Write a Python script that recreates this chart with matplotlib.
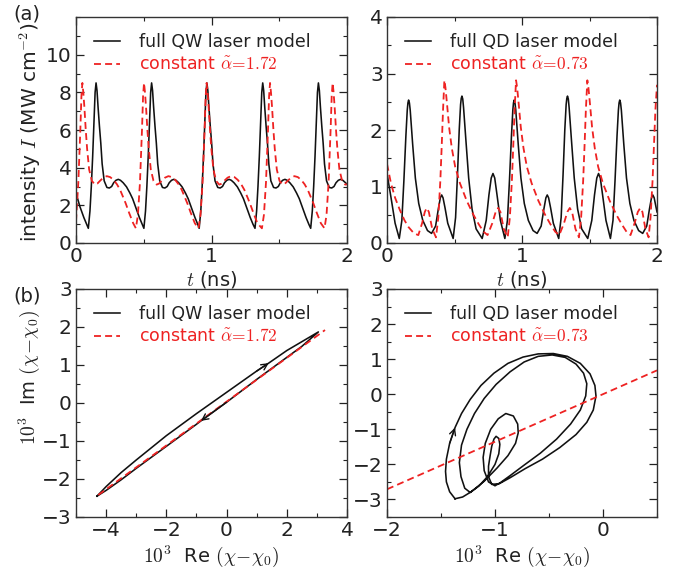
import matplotlib
matplotlib.use('Agg')
import matplotlib.pyplot as plt
from matplotlib.ticker import MultipleLocator

plt.rcParams['mathtext.fontset'] = 'cm'
plt.rcParams['font.family'] = ['DejaVu Sans']
plt.rcParams['lines.scale_dashes'] = False

RED = '#ee2222'
DARK = '#222222'

# ---------------- data: (a) left, QW intensity ----------------
t_qw_full = [0.000, 0.012, 0.028, 0.043, 0.058, 0.078,
             0.091, 0.103, 0.113, 0.123, 0.133, 0.141, 0.148, 0.155, 0.163, 0.173, 0.183, 0.193, 0.208, 0.228, 0.246, 0.263, 0.278, 0.295, 0.312, 0.328, 0.348, 0.373, 0.398, 0.418, 0.438, 0.453, 0.468, 0.488,
             0.501, 0.513, 0.523, 0.533, 0.543, 0.551, 0.558, 0.565, 0.573, 0.583, 0.593, 0.603, 0.618, 0.638, 0.656, 0.673, 0.688, 0.705, 0.722, 0.738, 0.758, 0.783, 0.808, 0.828, 0.848, 0.863, 0.878, 0.898,
             0.909, 0.921, 0.931, 0.941, 0.951, 0.959, 0.966, 0.973, 0.981, 0.991, 1.001, 1.011, 1.026, 1.046, 1.064, 1.081, 1.096, 1.113, 1.130, 1.146, 1.166, 1.191, 1.216, 1.236, 1.256, 1.271, 1.286, 1.306,
             1.321, 1.333, 1.343, 1.353, 1.363, 1.371, 1.378, 1.385, 1.393, 1.403, 1.413, 1.423, 1.438, 1.458, 1.476, 1.493, 1.508, 1.525, 1.542, 1.558, 1.578, 1.603, 1.628, 1.648, 1.668, 1.683, 1.698, 1.718,
             1.732, 1.744, 1.754, 1.764, 1.774, 1.782, 1.789, 1.796, 1.804, 1.814, 1.824, 1.834, 1.849, 1.869, 1.887, 1.904, 1.919, 1.936, 1.953, 1.969, 1.989, 2.000]
I_qw_full = [2.55, 2.35, 1.95, 1.65, 1.35, 1.00,
             0.78, 1.70, 3.00, 4.60, 6.50, 8.00, 8.50, 8.10, 7.20, 6.20, 5.30, 4.20, 3.30, 2.95, 2.92, 3.00, 3.20, 3.33, 3.38, 3.33, 3.20, 2.98, 2.65, 2.35, 1.95, 1.65, 1.35, 1.00,
             0.78, 1.70, 3.00, 4.60, 6.50, 8.00, 8.50, 8.10, 7.20, 6.20, 5.30, 4.20, 3.30, 2.95, 2.92, 3.00, 3.20, 3.33, 3.38, 3.33, 3.20, 2.98, 2.65, 2.35, 1.95, 1.65, 1.35, 1.00,
             0.78, 1.70, 3.00, 4.60, 6.50, 8.00, 8.50, 8.10, 7.20, 6.20, 5.30, 4.20, 3.30, 2.95, 2.92, 3.00, 3.20, 3.33, 3.38, 3.33, 3.20, 2.98, 2.65, 2.35, 1.95, 1.65, 1.35, 1.00,
             0.78, 1.70, 3.00, 4.60, 6.50, 8.00, 8.50, 8.10, 7.20, 6.20, 5.30, 4.20, 3.30, 2.95, 2.92, 3.00, 3.20, 3.33, 3.38, 3.33, 3.20, 2.98, 2.65, 2.35, 1.95, 1.65, 1.35, 1.00,
             0.78, 1.70, 3.00, 4.60, 6.50, 8.00, 8.50, 8.10, 7.20, 6.20, 5.30, 4.20, 3.30, 2.95, 2.92, 3.00, 3.20, 3.33, 3.38, 3.33, 3.20, 3.12]

t_qw_const = [0.000, 0.017, 0.032, 0.040, 0.047, 0.054, 0.062, 0.072, 0.082, 0.097, 0.117, 0.140, 0.157, 0.177, 0.202, 0.227, 0.252, 0.277, 0.302, 0.325, 0.347, 0.367, 0.392, 0.422, 0.442,
              0.457, 0.472, 0.487, 0.495, 0.502, 0.509, 0.517, 0.527, 0.537, 0.552, 0.572, 0.595, 0.612, 0.632, 0.657, 0.682, 0.707, 0.732, 0.757, 0.780, 0.802, 0.822, 0.847, 0.877, 0.904,
              0.919, 0.934, 0.949, 0.957, 0.964, 0.971, 0.979, 0.989, 0.999, 1.014, 1.034, 1.057, 1.074, 1.094, 1.119, 1.144, 1.169, 1.194, 1.219, 1.242, 1.264, 1.284, 1.309, 1.339, 1.372,
              1.387, 1.402, 1.417, 1.425, 1.432, 1.439, 1.447, 1.457, 1.467, 1.482, 1.502, 1.525, 1.542, 1.562, 1.587, 1.612, 1.637, 1.662, 1.687, 1.710, 1.732, 1.752, 1.777, 1.807, 1.834,
              1.849, 1.864, 1.879, 1.887, 1.894, 1.901, 1.909, 1.919, 1.929, 1.944, 1.964, 1.987, 2.000]
I_qw_const = [1.15, 3.20, 6.00, 7.80, 8.50, 8.00, 7.20, 6.00, 5.00, 3.90, 3.30, 3.10, 3.15, 3.30, 3.47, 3.55, 3.50, 3.35, 3.12, 2.83, 2.45, 2.10, 1.60, 1.05, 0.78,
              1.50, 3.20, 6.00, 7.80, 8.50, 8.00, 7.20, 6.00, 5.00, 3.90, 3.30, 3.10, 3.15, 3.30, 3.47, 3.55, 3.50, 3.35, 3.12, 2.83, 2.45, 2.10, 1.60, 1.05, 0.78,
              1.50, 3.20, 6.00, 7.80, 8.50, 8.00, 7.20, 6.00, 5.00, 3.90, 3.30, 3.10, 3.15, 3.30, 3.47, 3.55, 3.50, 3.35, 3.12, 2.83, 2.45, 2.10, 1.60, 1.05, 0.78,
              1.50, 3.20, 6.00, 7.80, 8.50, 8.00, 7.20, 6.00, 5.00, 3.90, 3.30, 3.10, 3.15, 3.30, 3.47, 3.55, 3.50, 3.35, 3.12, 2.83, 2.45, 2.10, 1.60, 1.05, 0.78,
              1.50, 3.20, 6.00, 7.80, 8.50, 8.00, 7.20, 6.00, 5.00, 3.90, 3.30, 3.10, 3.12]

# ---------------- data: (a) right, QD intensity ----------------
t_qd_full = [0.000, 0.030, 0.060, 0.091, 0.110, 0.125, 0.140, 0.150, 0.155, 0.160, 0.166, 0.172, 0.190, 0.210, 0.235, 0.265, 0.300, 0.330, 0.360, 0.380, 0.395, 0.405, 0.415, 0.430, 0.450, 0.490,
             0.508, 0.522, 0.535, 0.545, 0.550, 0.555, 0.561, 0.567, 0.585, 0.605, 0.630, 0.660, 0.705, 0.735, 0.755, 0.772, 0.785, 0.798, 0.815, 0.840,
             0.873, 0.892, 0.907, 0.922, 0.932, 0.937, 0.942, 0.948, 0.954, 0.972, 0.992, 1.017, 1.047, 1.082, 1.112, 1.142, 1.162, 1.177, 1.187, 1.197, 1.212, 1.232, 1.272,
             1.290, 1.304, 1.317, 1.327, 1.332, 1.337, 1.343, 1.349, 1.367, 1.387, 1.412, 1.442, 1.487, 1.517, 1.537, 1.554, 1.567, 1.580, 1.597, 1.622,
             1.655, 1.674, 1.689, 1.704, 1.714, 1.719, 1.724, 1.730, 1.736, 1.754, 1.774, 1.799, 1.829, 1.864, 1.894, 1.924, 1.944, 1.959, 1.969, 1.979, 1.994, 2.000]
I_qd_full = [1.23, 0.80, 0.35, 0.08, 0.40, 1.10, 1.90, 2.35, 2.48, 2.53, 2.48, 2.35, 1.75, 1.15, 0.70, 0.40, 0.22, 0.17, 0.30, 0.60, 0.80, 0.85, 0.80, 0.62, 0.35, 0.08,
             0.45, 1.20, 2.00, 2.45, 2.56, 2.60, 2.55, 2.40, 1.80, 1.15, 0.60, 0.25, 0.08, 0.40, 0.85, 1.15, 1.23, 1.15, 0.85, 0.40,
             0.08, 0.40, 1.10, 1.90, 2.35, 2.48, 2.53, 2.48, 2.35, 1.75, 1.15, 0.70, 0.40, 0.22, 0.17, 0.30, 0.60, 0.80, 0.85, 0.80, 0.62, 0.35, 0.08,
             0.45, 1.20, 2.00, 2.45, 2.56, 2.60, 2.55, 2.40, 1.80, 1.15, 0.60, 0.25, 0.08, 0.40, 0.85, 1.15, 1.23, 1.15, 0.85, 0.40,
             0.08, 0.40, 1.10, 1.90, 2.35, 2.48, 2.53, 2.48, 2.35, 1.75, 1.15, 0.70, 0.40, 0.22, 0.17, 0.30, 0.60, 0.80, 0.85, 0.80, 0.62, 0.55]

t_qd_const = [0.000, 0.030, 0.060, 0.096, 0.130, 0.160, 0.200, 0.232, 0.260, 0.280, 0.294, 0.310, 0.335, 0.363,
              0.380, 0.395, 0.405, 0.415, 0.425, 0.433, 0.445, 0.460, 0.480, 0.505, 0.540, 0.590, 0.640, 0.680, 0.715, 0.745, 0.780, 0.805, 0.823, 0.840, 0.865, 0.894,
              0.910, 0.925, 0.935, 0.945, 0.956, 0.964, 0.976, 0.991, 1.011, 1.036, 1.071, 1.121, 1.171, 1.211, 1.246, 1.276, 1.311, 1.336, 1.354, 1.371, 1.396, 1.422,
              1.438, 1.453, 1.463, 1.473, 1.484, 1.492, 1.504, 1.519, 1.539, 1.564, 1.599, 1.649, 1.699, 1.739, 1.774, 1.804, 1.834, 1.858, 1.876, 1.892, 1.914, 1.938,
              1.952, 1.967, 1.977, 1.988, 2.000]
I_qd_const = [1.40, 1.05, 0.80, 0.58, 0.40, 0.28, 0.17, 0.14, 0.35, 0.55, 0.62, 0.55, 0.25, 0.10,
              0.45, 1.10, 1.70, 2.35, 2.88, 2.75, 2.45, 2.05, 1.68, 1.35, 1.06, 0.75, 0.50, 0.33, 0.20, 0.14, 0.35, 0.55, 0.62, 0.55, 0.25, 0.10,
              0.45, 1.10, 1.70, 2.35, 2.88, 2.75, 2.45, 2.05, 1.68, 1.35, 1.06, 0.75, 0.50, 0.33, 0.20, 0.14, 0.35, 0.55, 0.62, 0.55, 0.25, 0.10,
              0.45, 1.10, 1.70, 2.35, 2.88, 2.75, 2.45, 2.05, 1.68, 1.35, 1.06, 0.75, 0.50, 0.33, 0.20, 0.14, 0.35, 0.55, 0.62, 0.55, 0.25, 0.10,
              0.45, 1.10, 1.70, 2.35, 2.80]

# ---------------- data: (b) left, QW susceptibility loop ----------------
re_qw_full = [-4.30, -4.00, -3.50, -3.00, -2.00, -1.00, 0.00, 1.00, 1.40, 2.00, 2.60, 3.05,
              2.50, 2.00, 1.00, 0.00, -0.85, -1.00, -2.00, -3.00, -3.50, -4.00, -4.30]
im_qw_full = [-2.45, -2.20, -1.83, -1.50, -0.86, -0.28, 0.28, 0.84, 1.05, 1.38, 1.66, 1.87,
              1.49, 1.20, 0.62, 0.02, -0.47, -0.56, -1.14, -1.72, -2.02, -2.30, -2.45]
re_qw_const = [-4.26, 3.27]
im_qw_const = [-2.42, 1.92]

# ---------------- data: (b) right, QD susceptibility trajectory ----------------
re_qd_full = [-1.37, -1.42, -1.45, -1.458, -1.45, -1.42, -1.37, -1.31, -1.23, -1.13, -1.01, -0.88, -0.74, -0.60, -0.46, -0.33, -0.21, -0.12, -0.075, -0.065,
              -0.09, -0.15, -0.25, -0.40, -0.56, -0.72, -0.86, -0.96, -1.03, -1.06,
              -1.06, -1.045, -1.03, -1.01, -0.99, -0.965, -0.955, -0.965, -1.00, -1.07, -1.15, -1.23,
              -1.28, -1.315, -1.33, -1.31, -1.26, -1.19, -1.10, -0.99, -0.86, -0.73, -0.60, -0.47, -0.35, -0.25, -0.18, -0.15, -0.16, -0.21, -0.30, -0.43, -0.58, -0.73, -0.86, -0.95, -1.00,
              -1.06, -1.10, -1.11, -1.09, -1.04, -0.97, -0.90, -0.83, -0.79, -0.785, -0.81, -0.88, -0.98, -1.10, -1.22, -1.30, -1.37]
im_qd_full = [-2.98, -2.78, -2.50, -2.20, -1.85, -1.40, -0.95, -0.55, -0.15, 0.25, 0.60, 0.88, 1.06, 1.15, 1.16, 1.08, 0.88, 0.58, 0.25, -0.05,
              -0.45, -0.80, -1.15, -1.52, -1.85, -2.12, -2.38, -2.55, -2.57, -2.35,
              -2.05, -1.75, -1.48, -1.28, -1.20, -1.26, -1.43, -1.70, -2.00, -2.35, -2.62, -2.80,
              -2.68, -2.35, -1.95, -1.45, -1.00, -0.55, -0.12, 0.28, 0.64, 0.92, 1.08, 1.12, 1.05, 0.86, 0.60, 0.30, -0.05, -0.45, -0.85, -1.28, -1.68, -2.02, -2.32, -2.52, -2.61,
              -2.50, -2.18, -1.80, -1.40, -1.00, -0.70, -0.55, -0.62, -0.85, -1.10, -1.40, -1.75, -2.10, -2.48, -2.78, -2.93, -2.98]
re_qd_const = [-2.0, 0.5]
im_qd_const = [-2.71, 0.68]

# ---------------- figure ----------------
W, H = 682, 569
fig = plt.figure(figsize=(W / 100, H / 100), dpi=100)


def ax_at(l, t, r, b):
    return fig.add_axes([l / W, 1 - b / H, (r - l) / W, (b - t) / H])


def style(ax):
    ax.tick_params(which='both', direction='in', top=True, right=True,
                   labelsize=14.5, colors=DARK, pad=3)
    ax.tick_params(which='major', length=6, width=0.9)
    ax.tick_params(which='minor', length=3, width=0.8)
    for s in ax.spines.values():
        s.set_color('#333333')
        s.set_linewidth(1.0)


def legend(ax):
    leg = ax.legend(loc='upper left', bbox_to_anchor=(0.068, 0.93), frameon=False,
                    fontsize=12.5, handlelength=1.45, handletextpad=1.1,
                    labelspacing=0.3, borderpad=0, borderaxespad=0)
    txt = leg.get_texts()
    txt[0].set_color(DARK)
    txt[1].set_color(RED)


def arrow(ax, xs, ys, i):
    ax.annotate('', xy=(xs[i + 1], ys[i + 1]), xytext=(xs[i], ys[i]),
                arrowprops=dict(arrowstyle='->', color='#111111', lw=1.0,
                                shrinkA=0, shrinkB=0, mutation_scale=11))


ax1 = ax_at(76, 17, 347, 243)
ax2 = ax_at(387, 17, 657, 243)
ax3 = ax_at(76, 289, 347, 517)
ax4 = ax_at(387, 289, 657, 517)

kw_full = dict(color='#111111', lw=1.15)
kw_const = dict(color=RED, lw=1.3, dashes=(5, 3))

# (a) left
ax1.plot(t_qw_full, I_qw_full, label='full QW laser model', **kw_full)
ax1.plot(t_qw_const, I_qw_const, label=r'constant $\tilde{\alpha}\!=\!1.72$', **kw_const)
ax1.set_xlim(0, 2)
ax1.set_ylim(0, 12)
ax1.xaxis.set_major_locator(MultipleLocator(1))
ax1.xaxis.set_minor_locator(MultipleLocator(0.5))
ax1.set_yticks([0, 2, 4, 6, 8, 10])
ax1.yaxis.set_minor_locator(MultipleLocator(1))
style(ax1)
legend(ax1)
ax1.set_xlabel(r'$t$ (ns)', fontsize=14, color=DARK)
ax1.set_ylabel(r'intensity $I$ (MW cm$^{-2}$)', fontsize=14.5, color=DARK)
ax1.xaxis.set_label_coords(0.5, -0.115)
ax1.yaxis.set_label_coords(-0.12, 0.49)

# (a) right
ax2.plot(t_qd_full, I_qd_full, label='full QD laser model', **kw_full)
ax2.plot(t_qd_const, I_qd_const, label=r'constant $\tilde{\alpha}\!=\!0.73$', **kw_const)
ax2.set_xlim(0, 2)
ax2.set_ylim(0, 4)
ax2.xaxis.set_major_locator(MultipleLocator(1))
ax2.xaxis.set_minor_locator(MultipleLocator(0.5))
ax2.yaxis.set_major_locator(MultipleLocator(1))
ax2.yaxis.set_minor_locator(MultipleLocator(0.5))
style(ax2)
legend(ax2)
ax2.set_xlabel(r'$t$ (ns)', fontsize=14, color=DARK)
ax2.xaxis.set_label_coords(0.5, -0.115)

# (b) left
ax3.plot(re_qw_full, im_qw_full, label='full QW laser model', **kw_full)
ax3.plot(re_qw_const, im_qw_const, label=r'constant $\tilde{\alpha}\!=\!1.72$', **kw_const)
arrow(ax3, re_qw_full, im_qw_full, 7)
arrow(ax3, re_qw_full, im_qw_full, 15)
ax3.set_xlim(-5, 4)
ax3.set_ylim(-3, 3)
ax3.set_xticks([-4, -2, 0, 2, 4])
ax3.xaxis.set_minor_locator(MultipleLocator(1))
ax3.yaxis.set_major_locator(MultipleLocator(1))
ax3.yaxis.set_minor_locator(MultipleLocator(0.5))
style(ax3)
legend(ax3)
ax3.set_xlabel(r'$10^3$  Re $(\chi\!-\!\chi_0)$', fontsize=14, color=DARK)
ax3.set_ylabel(r'$10^3$  Im $(\chi\!-\!\chi_0)$', fontsize=14, color=DARK)
ax3.xaxis.set_label_coords(0.5, -0.115)
ax3.yaxis.set_label_coords(-0.125, 0.61)

# (b) right
ax4.plot(re_qd_full, im_qd_full, label='full QD laser model', **kw_full)
ax4.plot(re_qd_const, im_qd_const, label=r'constant $\tilde{\alpha}\!=\!0.73$', **kw_const)
arrow(ax4, re_qd_full, im_qd_full, 5)
ax4.set_xlim(-2, 0.5)
ax4.set_ylim(-3.5, 3)
ax4.xaxis.set_major_locator(MultipleLocator(1))
ax4.xaxis.set_minor_locator(MultipleLocator(0.5))
ax4.yaxis.set_major_locator(MultipleLocator(1))
ax4.yaxis.set_minor_locator(MultipleLocator(0.5))
style(ax4)
legend(ax4)
ax4.set_xlabel(r'$10^3$  Re $(\chi\!-\!\chi_0)$', fontsize=14, color=DARK)
ax4.xaxis.set_label_coords(0.5, -0.115)

fig.text(13 / W, 1 - 4 / H, '(a)', fontsize=14, color=DARK, ha='left', va='top')
fig.text(13 / W, 1 - 286 / H, '(b)', fontsize=14, color=DARK, ha='left', va='top')

fig.savefig('out.png', dpi=100)
